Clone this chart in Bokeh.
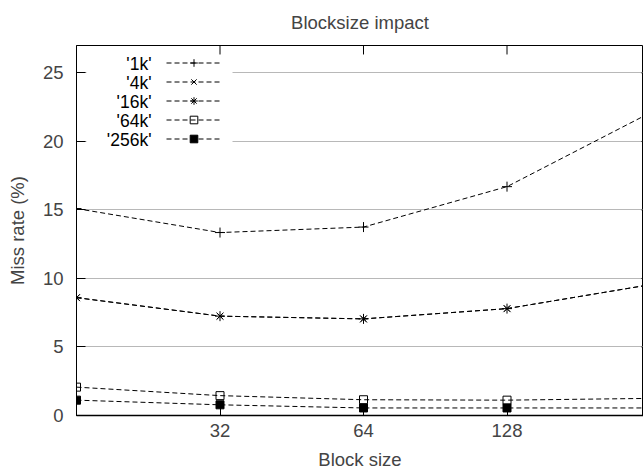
from bokeh.plotting import figure
from bokeh.models import (Range1d, FixedTicker, Legend, LegendItem, Label,
                          BoxAnnotation, BasicTickFormatter)
from bokeh.embed import file_html
from bokeh.resources import INLINE

# ---- data ----
block_sizes = [16, 32, 64, 128, 256]
x_tick_values = [32, 64, 128]
x_tick_labels = ["32", "64", "128"]
y_tick_values = [0, 5, 10, 15, 20, 25]
miss_1k = [15.1, 13.35, 13.75, 16.7, 22.1]
miss_4k = [8.6, 7.25, 7.05, 7.8, 9.55]
miss_16k = [8.6, 7.25, 7.05, 7.8, 9.55]
miss_64k = [2.07, 1.45, 1.15, 1.12, 1.25]
miss_256k = [1.12, 0.78, 0.55, 0.55, 0.55]
series_names = ["'1k'", "'4k'", "'16k'", "'64k'", "'256k'"]

FONT = "Liberation Sans"
FS = "18.5px"

# ---- layout (pixels) ----
W, H = 643, 475
LEFT, TOP, BOTTOM = 76, 44, 60
X0, X_PER_DOUBLING = 16, 143.5
Y0, Y1 = 0, 27
frame_w = W - LEFT
frame_h = H - TOP - BOTTOM
x_end = X0 * 2 ** (frame_w / X_PER_DOUBLING)
y_per_px = (Y1 - Y0) / frame_h


def px_to_x(px):
    return X0 * 2 ** ((px - LEFT) / X_PER_DOUBLING)


def py_to_y(py):
    return Y0 + (TOP + frame_h - py) * y_per_px


p = figure(width=W, height=H, x_axis_type="log",
           x_range=Range1d(X0, x_end), y_range=Range1d(Y0, Y1),
           output_backend="svg", toolbar_location=None,
           min_border_left=LEFT, min_border_right=0, min_border_top=TOP,
           min_border_bottom=BOTTOM, title="Blocksize impact")

p.title.align = "center"
p.title.vertical_align = "top"
p.title.text_font = FONT
p.title.text_font_size = FS
p.title.text_font_style = "normal"
p.title.standoff = 22

p.outline_line_color = "black"
p.outline_line_width = 1

# x axis
xa = p.xaxis[0]
xa.ticker = FixedTicker(ticks=x_tick_values)
xa.formatter = BasicTickFormatter()
xa.major_label_overrides = dict(zip(x_tick_values, x_tick_labels))
xa.axis_label = "Block size"
xa.minor_tick_line_color = None
xa.major_tick_in = 9
xa.major_tick_out = 0
xa.major_label_standoff = 8
xa.axis_label_standoff = 9
xa.axis_line_width = 1.5

# y axis
ya = p.yaxis[0]
ya.ticker = FixedTicker(ticks=y_tick_values)
ya.axis_label = "Miss rate (%)"
ya.minor_tick_line_color = None
ya.major_tick_in = 9
ya.major_tick_out = 0
ya.major_label_standoff = 13
ya.axis_label_standoff = 12

for ax in (xa, ya):
    ax.major_label_text_font = FONT
    ax.major_label_text_font_size = FS
    ax.axis_label_text_font = FONT
    ax.axis_label_text_font_size = FS
    ax.axis_label_text_font_style = "normal"
    ax.axis_line_color = "black"
    ax.major_tick_line_color = "black"

p.xgrid.grid_line_color = None
p.ygrid.ticker = FixedTicker(ticks=y_tick_values)
p.ygrid.grid_line_color = "#b8b8b8"
p.ygrid.grid_line_width = 1

# mirrored inward ticks on the top and right borders
tick_len_y = 9 * y_per_px
p.segment(x0=x_tick_values, y0=[Y1] * len(x_tick_values),
          x1=x_tick_values, y1=[Y1 - tick_len_y] * len(x_tick_values),
          line_color="black", line_width=1)
right_border_x = px_to_x(LEFT + 4 * X_PER_DOUBLING)
p.segment(x0=[right_border_x / 2 ** (9 / X_PER_DOUBLING)] * len(y_tick_values),
          y0=y_tick_values, x1=[right_border_x] * len(y_tick_values),
          y1=y_tick_values, line_color="black", line_width=1)

# white area behind the key (hides gridlines there)
box = BoxAnnotation(left=px_to_x(LEFT + 10), right=px_to_x(232),
                    bottom=py_to_y(147), top=py_to_y(TOP + 10),
                    fill_color="white", fill_alpha=1.0, line_alpha=0,
                    level="underlay")
p.add_layout(box)

series = [miss_1k, miss_4k, miss_16k, miss_64k, miss_256k]
markers = ["cross", "x", "asterisk", "square", "square"]
sizes = [10, 8, 10, 8, 8]
fills = [None, None, None, None, "black"]

ROW_H = 19
KEY_TOP = 53          # px, top of first key row
SAMPLE_LEFT = 166     # px, start of key sample line
SAMPLE_W = 55
TEXT_RIGHT = 151      # px, right edge of key text

items = []
for i, (name, vals, mk, sz, fc) in enumerate(zip(series_names, series, markers, sizes, fills)):
    ln = p.line(block_sizes, vals, line_color="black", line_width=1,
                line_dash="5 3")
    sc = p.scatter(block_sizes, vals, marker=mk, size=sz, line_color="black",
                   fill_color=fc, line_width=1)
    items.append(LegendItem(label=" ", renderers=[ln, sc]))
    row_center = KEY_TOP + ROW_H * (i + 0.5)
    p.add_layout(Label(x=px_to_x(TEXT_RIGHT), y=py_to_y(row_center), text=name,
                       text_align="right", text_baseline="middle",
                       text_font=FONT, text_font_size="17.5px",
                       text_color="black"))

legend = Legend(items=items,
                location=(SAMPLE_LEFT - LEFT, TOP + frame_h - KEY_TOP - ROW_H * 5),
                margin=0, padding=0, spacing=0, glyph_width=SAMPLE_W,
                glyph_height=ROW_H, label_height=ROW_H, label_width=0,
                label_standoff=0, label_text_font_size="8px",
                background_fill_alpha=0, border_line_alpha=0)
p.add_layout(legend, "center")

open("out.html", "w").write(file_html(p, INLINE))
